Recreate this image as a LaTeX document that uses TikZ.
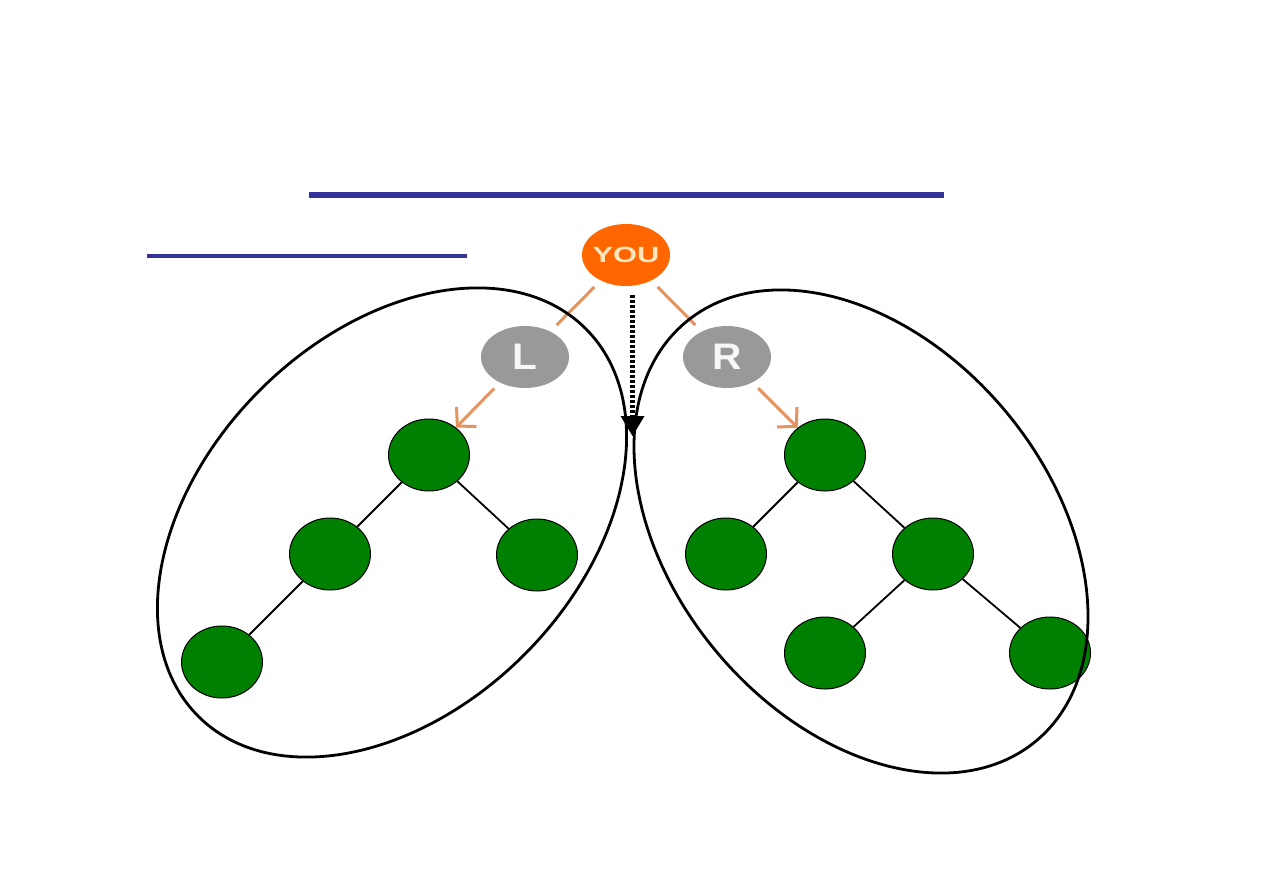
\documentclass[tikz,border=0pt]{standalone}
\usepackage{fontspec}
\usepackage{graphicx}
\setmainfont{Liberation Sans}
\usetikzlibrary{shapes.geometric,arrows.meta}
\definecolor{barblue}{RGB}{51,51,153}
\definecolor{youorange}{RGB}{255,102,0}
\definecolor{lrgray}{RGB}{153,153,153}
\definecolor{linkorange}{RGB}{228,148,95}
\definecolor{treegreen}{RGB}{0,128,0}
\definecolor{cream}{RGB}{255,230,190}
\tikzset{
  gn/.style={ellipse, draw=black, line width=1pt, fill=treegreen, minimum width=81pt, minimum height=72pt, inner sep=0pt},
  lr/.style={ellipse, fill=lrgray, minimum width=88pt, minimum height=62pt, inner sep=0pt, text=white!94!gray, font=\bfseries\fontsize{37}{37}\selectfont},
  younode/.style={ellipse, fill=youorange, minimum width=88pt, minimum height=62pt, inner sep=0pt, text=cream, font=\bfseries\fontsize{22}{22}\selectfont},
  bigell/.style={ellipse, draw=black, line width=2.8pt, inner sep=0pt},
  treeedge/.style={draw=black, line width=1.8pt},
  link/.style={draw=linkorange, line width=3pt},
  linkarrow/.style={draw=linkorange, line width=3pt, -{Straight Barb[length=13pt,width=28pt,line width=3pt]}},
  dotarrow/.style={draw=black, line width=4.5pt, dash pattern=on 3pt off 2pt, -{Triangle[length=20pt,width=24pt,line width=0pt]}},
  bar/.style={draw=barblue}
}
\begin{document}
\begin{tikzpicture}[x=1pt,y=-1pt]
\useasboundingbox (0,0) rectangle (1263,893);
\fill[white] (0,0) rectangle (1263,893);
% blue bars
\coordinate (b1a) at (309,195.5); \coordinate (b1b) at (944,195.5);
\coordinate (b2a) at (147,256); \coordinate (b2b) at (467,256);
\draw[bar, line width=6pt] (b1a) -- (b1b);
\draw[bar, line width=4pt] (b2a) -- (b2b);
% top nodes
\node[younode] (YOU) at (626,255) {\makebox[0pt]{\scalebox{1.4}[1]{YOU}}};
\node[lr] (L) at (525,357) {\makebox[0pt]{\scalebox{1.1}[1]{L}}};
\node[lr] (R) at (727,357) {\makebox[0pt]{\scalebox{1.1}[1]{R}}};
% left tree
\node[gn] (a1) at (429,455) {};
\node[gn] (a2) at (330,554) {};
\node[gn] (a3) at (537,555) {};
\node[gn] (a4) at (222,662) {};
% right tree
\node[gn] (b1) at (825,455) {};
\node[gn] (b2) at (726,554) {};
\node[gn] (b3) at (933,554) {};
\node[gn] (b4) at (825,653) {};
\node[gn] (b5) at (1050,653) {};
% tree edges
\draw[treeedge] (a1) -- (a2);
\draw[treeedge] (a1) -- (a3);
\draw[treeedge] (a2) -- (a4);
\draw[treeedge] (b1) -- (b2);
\draw[treeedge] (b1) -- (b3);
\draw[treeedge] (b3) -- (b4);
\draw[treeedge] (b3) -- (b5);
% orange links
\draw[link, shorten <=9pt, shorten >=9pt] (YOU) -- (L);
\draw[link, shorten <=9pt, shorten >=9pt] (YOU) -- (R);
\draw[linkarrow, shorten <=8pt] (L) -- (a1);
\draw[linkarrow, shorten <=8pt] (R) -- (b1);
% big ellipses
\node[bigell, minimum width=548pt, minimum height=374pt, rotate=45] (LS) at (392,522.5) {};
\node[bigell, minimum width=546pt, minimum height=376pt, rotate=-50] (RS) at (861,531.5) {};
% dotted arrow
\coordinate (dtip) at (632.5,436);
\draw[dotarrow] ([yshift=-9pt]YOU.south -| dtip) -- (dtip);
\end{tikzpicture}
\end{document}
